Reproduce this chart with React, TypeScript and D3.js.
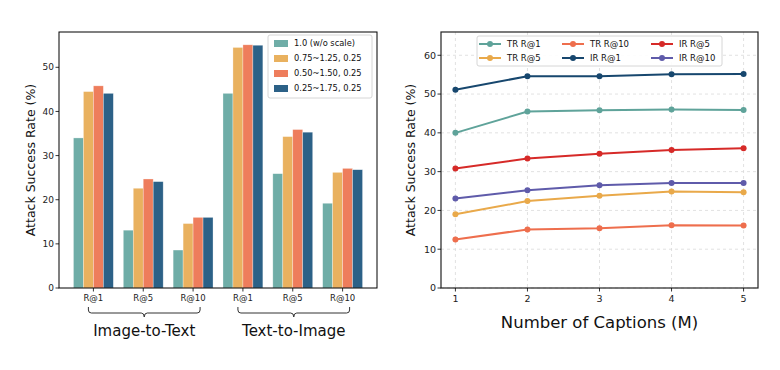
import React from "react";
import * as d3 from "d3";

const barCategories = ["R@1", "R@5", "R@10", "R@1", "R@5", "R@10"];
const barGroups = ["Image-to-Text", "Text-to-Image"];
const barSeriesNames = ["1.0 (w/o scale)", "0.75~1.25, 0.25", "0.50~1.50, 0.25", "0.25~1.75, 0.25"];
const barColors = ["#6FADA7", "#E9B15F", "#EE7D5C", "#2C6187"];
const barS1 = [34.0, 13.1, 8.6, 44.1, 25.9, 19.2];
const barS2 = [44.5, 22.6, 14.6, 54.5, 34.3, 26.2];
const barS3 = [45.8, 24.7, 16.0, 55.1, 35.9, 27.1];
const barS4 = [44.1, 24.1, 16.0, 55.0, 35.3, 26.8];
const barSeries = [barS1, barS2, barS3, barS4];
const barYTicks = [0, 10, 20, 30, 40, 50];

const lineX = [1, 2, 3, 4, 5];
const lineYTicks = [0, 10, 20, 30, 40, 50, 60];
const trR1 = [40.0, 45.5, 45.8, 46.0, 45.9];
const trR5 = [19.0, 22.4, 23.8, 24.9, 24.7];
const trR10 = [12.5, 15.1, 15.4, 16.2, 16.1];
const irR1 = [51.1, 54.6, 54.6, 55.1, 55.2];
const irR5 = [30.8, 33.4, 34.6, 35.6, 36.0];
const irR10 = [23.1, 25.2, 26.5, 27.1, 27.1];
const lineNames = ["TR R@1", "TR R@5", "TR R@10", "IR R@1", "IR R@5", "IR R@10"];
const lineData = [trR1, trR5, trR10, irR1, irR5, irR10];
const lineColors = ["#5FA39A", "#E9A94A", "#EE6E4D", "#17476E", "#D62A28", "#5F5BAA"];
const legendOrder = [0, 1, 2, 3, 4, 5];

const FONT = "DejaVu Sans, sans-serif";

function BarChart() {
  const L = 59, R = 377, T = 32, B = 288;
  const x = d3.scaleLinear().domain([-0.69, 5.69]).range([L, R]);
  const y = d3.scaleLinear().domain([0, 58]).range([B, T]);
  const bw = 0.2;
  const brace = (x0: number, x1: number) => {
    const yt = 307, yb = 313, ytip = 317, r = 3;
    const xm = (x0 + x1) / 2;
    return `M${x0},${yt} L${x0},${yb - r} Q${x0},${yb} ${x0 + r},${yb} L${xm - r},${yb} Q${xm},${yb} ${xm},${ytip} Q${xm},${yb} ${xm + r},${yb} L${x1 - r},${yb} Q${x1},${yb} ${x1},${yb - r} L${x1},${yt}`;
  };
  return (
    <g fontFamily={FONT}>
      {barSeries.map((s, j) =>
        s.map((v, i) => (
          <rect
            key={`${j}-${i}`}
            x={x(i + (j - 1.5) * bw - bw / 2)}
            width={x(bw) - x(0)}
            y={y(v)}
            height={y(0) - y(v)}
            fill={barColors[j]}
            stroke="#ffffff"
            strokeOpacity={0.5}
            strokeWidth={0.6}
          />
        ))
      )}
      <rect x={L} y={T} width={R - L} height={B - T} fill="none" stroke="#000" strokeWidth={1} />
      {barYTicks.map((t) => (
        <g key={t}>
          <line x1={L - 3.5} x2={L} y1={y(t)} y2={y(t)} stroke="#000" strokeWidth={0.8} />
          <text x={L - 5} y={y(t)} dy="0.35em" textAnchor="end" fontSize={9} fill="#222">{t}</text>
        </g>
      ))}
      {barCategories.map((c, i) => (
        <g key={i}>
          <line x1={x(i)} x2={x(i)} y1={B} y2={B + 3.5} stroke="#000" strokeWidth={0.8} />
          <text x={x(i)} y={B + 13} textAnchor="middle" fontSize={8.5} fill="#222">{c}</text>
        </g>
      ))}
      {barGroups.map((g, k) => {
        const x0 = x(k * 3) - 5, x1 = x(k * 3 + 2) + 7;
        return (
          <g key={g}>
            <path d={brace(x0, x1)} fill="none" stroke="#333" strokeWidth={1} />
            <text x={(x0 + x1) / 2} y={336} textAnchor="middle" fontSize={15} fill="#111">{g}</text>
          </g>
        );
      })}
      <text transform={`translate(${35},${(T + B) / 2}) rotate(-90)`} textAnchor="middle" fontSize={12.5} fill="#111">
        Attack Success Rate (%)
      </text>
      <g>
        <rect x={268} y={35} width={104} height={63} rx={2} fill="#fff" fillOpacity={0.85} stroke="#ccc" strokeWidth={0.8} />
        {barSeriesNames.map((n, j) => (
          <g key={n}>
            <rect x={274} y={40 + j * 15} width={14} height={7} fill={barColors[j]} />
            <text x={294} y={43.5 + j * 15} dy="0.35em" fontSize={8.3} fill="#111">{n}</text>
          </g>
        ))}
      </g>
    </g>
  );
}

function LineChart() {
  const L = 441, R = 758, T = 32, B = 288;
  const x = d3.scaleLinear().domain([0.8, 5.2]).range([L, R]);
  const y = d3.scaleLinear().domain([0, 66]).range([B, T]);
  const line = d3.line<number>().x((_, i) => x(lineX[i])).y((d) => y(d));
  const colX = [479, 562, 651];
  return (
    <g fontFamily={FONT}>
      {lineYTicks.map((t) => (
        <line key={"gy" + t} x1={L} x2={R} y1={y(t)} y2={y(t)} stroke="#d9d9d9" strokeDasharray="3,3" strokeWidth={0.8} />
      ))}
      {lineX.map((t) => (
        <line key={"gx" + t} x1={x(t)} x2={x(t)} y1={T} y2={B} stroke="#d9d9d9" strokeDasharray="3,3" strokeWidth={0.8} />
      ))}
      {lineData.map((s, k) => (
        <g key={k}>
          <path d={line(s) || ""} fill="none" stroke={lineColors[k]} strokeWidth={2} />
          {s.map((v, i) => (
            <circle key={i} cx={x(lineX[i])} cy={y(v)} r={3} fill={lineColors[k]} />
          ))}
        </g>
      ))}
      <rect x={L} y={T} width={R - L} height={B - T} fill="none" stroke="#222" strokeWidth={1.2} />
      {lineYTicks.map((t) => (
        <g key={t}>
          <line x1={L - 3.5} x2={L} y1={y(t)} y2={y(t)} stroke="#000" strokeWidth={0.8} />
          <text x={L - 5} y={y(t)} dy="0.35em" textAnchor="end" fontSize={9.5} fill="#222">{t}</text>
        </g>
      ))}
      {lineX.map((t) => (
        <g key={t}>
          <line x1={x(t)} x2={x(t)} y1={B} y2={B + 3.5} stroke="#000" strokeWidth={0.8} />
          <text x={x(t)} y={B + 14} textAnchor="middle" fontSize={9.5} fill="#222">{t}</text>
        </g>
      ))}
      <text x={(L + R) / 2} y={328} textAnchor="middle" fontSize={16.5} fill="#111">Number of Captions (M)</text>
      <text transform={`translate(${415},${(T + B) / 2}) rotate(-90)`} textAnchor="middle" fontSize={12.5} fill="#111">
        Attack Success Rate (%)
      </text>
      <g>
        <rect x={477} y={36} width={245} height={30} rx={2} fill="#fff" fillOpacity={0.9} stroke="#ccc" strokeWidth={0.8} />
        {legendOrder.map((k, idx) => {
          const col = Math.floor(idx / 2), row = idx % 2;
          const lx = colX[col], ly = 44 + row * 14;
          return (
            <g key={k}>
              <line x1={lx} x2={lx + 22} y1={ly} y2={ly} stroke={lineColors[k]} strokeWidth={2} />
              <circle cx={lx + 11} cy={ly} r={3} fill={lineColors[k]} />
              <text x={lx + 28} y={ly} dy="0.35em" fontSize={8.5} fill="#111">{lineNames[k]}</text>
            </g>
          );
        })}
      </g>
    </g>
  );
}

export default function App() {
  return (
    <svg width={780} height={370} style={{ display: "block", position: "absolute", left: 0, top: 0 }}>
      <rect width={780} height={370} fill="#fff" />
      <BarChart />
      <LineChart />
    </svg>
  );
}
